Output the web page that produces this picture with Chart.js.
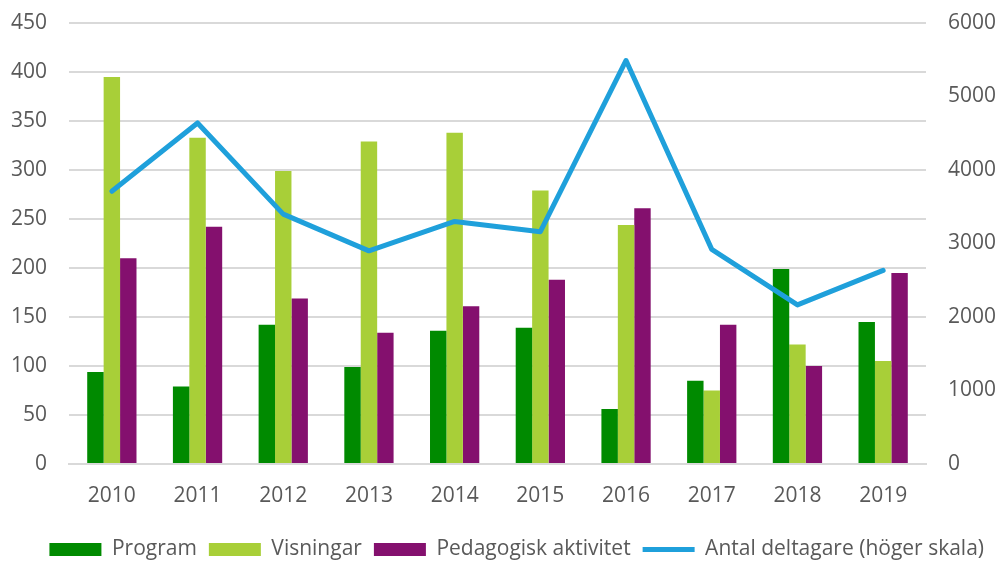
<!DOCTYPE html>
<html lang="sv">
    <head>
        <title>Aktiviteter och deltagare 2010-2019</title>
        <meta charset="utf-8">
        <script src="https://cdn.jsdelivr.net/npm/chart.js@4.4.0/dist/chart.umd.min.js"></script>
        <style>
            html, body { margin: 0; padding: 0; background: #ffffff; }
        </style>
    </head>

    <body>
        <canvas id="activityChart" width="1000" height="561"></canvas>

        <script>
            // data
            const years = ['2010', '2011', '2012', '2013', '2014', '2015', '2016', '2017', '2018', '2019'];
            const program = [94, 79, 142, 99, 136, 139, 56, 85, 199, 145];
            const visningar = [395, 333, 299, 329, 338, 279, 244, 75, 122, 105];
            const pedagogisk = [210, 242, 169, 134, 161, 188, 261, 142, 100, 195];
            const deltagare = [3710, 4640, 3400, 2900, 3300, 3160, 5490, 2920, 2165, 2635];

            const fontFamily = "'Open Sans', 'Liberation Sans', sans-serif";
            const textColor = '#595959';
            const tickFont = { family: fontFamily, size: 21 };

            // fixed axis sizes so the plot area lands where the original has it
            function fixSide(width) {
                return (scale) => {
                    scale.width = width;
                    scale.paddingTop = 23;
                    scale.paddingBottom = 10;
                };
            }

            const ctx = document.getElementById('activityChart').getContext('2d');
            const chart = new Chart(ctx, {
                type: 'bar',
                data: {
                    labels: years,
                    datasets: [
                        {
                            label: 'Program',
                            data: program,
                            backgroundColor: '#008a00',
                            yAxisID: 'y',
                            order: 1
                        },
                        {
                            label: 'Visningar',
                            data: visningar,
                            backgroundColor: '#a8cf38',
                            yAxisID: 'y',
                            order: 1
                        },
                        {
                            label: 'Pedagogisk aktivitet',
                            data: pedagogisk,
                            backgroundColor: '#84106e',
                            yAxisID: 'y',
                            order: 1
                        },
                        {
                            type: 'line',
                            label: 'Antal deltagare (höger skala)',
                            data: deltagare,
                            borderColor: '#1fa0db',
                            backgroundColor: '#1fa0db',
                            borderWidth: 5,
                            pointRadius: 0,
                            tension: 0,
                            borderCapStyle: 'round',
                            borderJoinStyle: 'round',
                            yAxisID: 'y1',
                            order: 0
                        }
                    ]
                },
                options: {
                    responsive: false,
                    animation: false,
                    layout: {
                        padding: { left: 11, right: 4, top: 0, bottom: -9 }
                    },
                    datasets: {
                        bar: {
                            categoryPercentage: 0.575,
                            barPercentage: 1.0
                        }
                    },
                    scales: {
                        x: {
                            grid: { display: false, drawTicks: false },
                            border: { display: true, color: '#d9d9d9', width: 2 },
                            ticks: {
                                color: textColor,
                                font: tickFont,
                                padding: 19
                            },
                            afterFit: (scale) => { scale.height = 63; }
                        },
                        y: {
                            position: 'left',
                            min: 0,
                            max: 450,
                            ticks: {
                                stepSize: 50,
                                color: textColor,
                                font: tickFont,
                                padding: 22
                            },
                            grid: { color: '#d9d9d9', lineWidth: 2, drawTicks: false },
                            border: { display: false },
                            afterFit: fixSide(58)
                        },
                        y1: {
                            position: 'right',
                            min: 0,
                            max: 6000,
                            ticks: {
                                stepSize: 1000,
                                color: textColor,
                                font: tickFont,
                                padding: 22,
                                callback: (v) => String(v)
                            },
                            grid: { display: false, drawTicks: false },
                            border: { display: false },
                            afterFit: fixSide(70)
                        }
                    },
                    plugins: {
                        tooltip: { enabled: false },
                        legend: {
                            position: 'bottom',
                            align: 'end',
                            labels: {
                                color: textColor,
                                font: { family: fontFamily, size: 21 },
                                usePointStyle: true,
                                pointStyleWidth: 52,
                                boxHeight: 13,
                                padding: 12,
                                sort: (a, b) => a.datasetIndex - b.datasetIndex,
                                generateLabels: (c) => {
                                    const items = Chart.defaults.plugins.legend.labels.generateLabels(c);
                                    items.forEach((item) => {
                                        const ds = c.data.datasets[item.datasetIndex];
                                        item.pointStyle = ds.type === 'line' ? 'line' : 'rect';
                                        if (ds.type !== 'line') {
                                            item.lineWidth = 0;
                                        }
                                    });
                                    return items;
                                }
                            }
                        }
                    }
                }
            });
        </script>
    </body>
</html>
